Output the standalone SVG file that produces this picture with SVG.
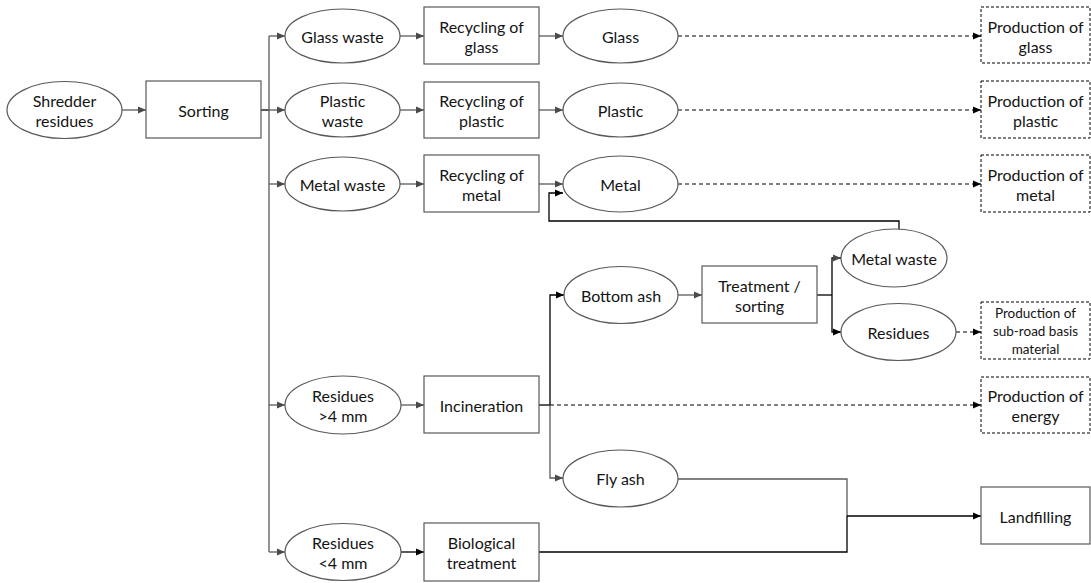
<svg xmlns="http://www.w3.org/2000/svg" width="1091" height="583" viewBox="0 0 1091 583">
  <style>
    .node ellipse, .node rect { fill: #ffffff; stroke: #595959; stroke-width: 1.2; }
    .node rect.out { stroke: #000000; stroke-width: 1; stroke-dasharray: 3 2; }
    text { font-family: Lato, "Open Sans", "Liberation Sans", sans-serif; font-size: 16px; fill: #141414; text-anchor: middle; dominant-baseline: central; }
    text.small { font-size: 13.5px; }
    .c { fill: none; stroke-width: 1.3; }
    .g { stroke: #5a5a5a; }
    .k { stroke: #000000; }
    .d { stroke: #000000; stroke-dasharray: 4 3; stroke-width: 1; }
  </style>
  <defs>
    <marker id="ag" markerUnits="userSpaceOnUse" markerWidth="10" markerHeight="10" refX="9" refY="5" orient="auto">
      <path d="M1,1.5 L9,5 L1,8.5 Z" fill="#4a4a4a"/>
    </marker>
    <marker id="ak" markerUnits="userSpaceOnUse" markerWidth="10" markerHeight="10" refX="9" refY="5" orient="auto">
      <path d="M1,1.5 L9,5 L1,8.5 Z" fill="#000000"/>
    </marker>
  </defs>
  <rect width="1091" height="583" fill="#ffffff"/>

  <!-- connectors -->
  <g id="connectors">
    <!-- shredder -> sorting -->
    <path class="c g" d="M122,110 H146" marker-end="url(#ag)"/>
    <!-- sorting -> bus -->
    <path class="c k" d="M261,110 H269"/>
    <path class="c g" d="M269,36 V552"/>
    <path class="c g" d="M269,36 H285" marker-end="url(#ag)"/>
    <path class="c g" d="M269,110 H285" marker-end="url(#ag)"/>
    <path class="c g" d="M269,184 H285" marker-end="url(#ag)"/>
    <path class="c g" d="M269,405 H285" marker-end="url(#ag)"/>
    <path class="c g" d="M269,552 H285" marker-end="url(#ag)"/>
    <!-- waste -> recycling -->
    <path class="c g" d="M400,36 H424" marker-end="url(#ag)"/>
    <path class="c g" d="M400,110 H424" marker-end="url(#ag)"/>
    <path class="c g" d="M400,184 H424" marker-end="url(#ag)"/>
    <path class="c g" d="M401,405 H424" marker-end="url(#ag)"/>
    <path class="c k" d="M401,552 H424" marker-end="url(#ak)"/>
    <!-- recycling -> material -->
    <path class="c g" d="M539,36 H563" marker-end="url(#ag)"/>
    <path class="c g" d="M539,110 H563" marker-end="url(#ag)"/>
    <path class="c g" d="M539,184 H563" marker-end="url(#ag)"/>
    <!-- material -> production (dashed) -->
    <path class="c d" d="M678,36 H981" marker-end="url(#ak)"/>
    <path class="c d" d="M678,110 H981" marker-end="url(#ak)"/>
    <path class="c d" d="M678,184 H981" marker-end="url(#ak)"/>
    <!-- metal waste feedback -->
    <path class="c k" d="M899,229 V221 H549 V193 H563" marker-end="url(#ak)"/>
    <!-- incineration outputs -->
    <path class="c k" d="M539,405 H550"/>
    <path class="c k" d="M550,405 V295 H564" marker-end="url(#ak)"/>
    <path class="c g" d="M550,405 V478 H563" marker-end="url(#ag)"/>
    <path class="c d" d="M550,405 H981" marker-end="url(#ak)"/>
    <!-- bottom ash -> treatment -->
    <path class="c g" d="M678,295 H702" marker-end="url(#ag)"/>
    <!-- treatment fork -->
    <path class="c k" d="M817,295 H832"/>
    <path class="c k" d="M832,295 V258 H841" marker-end="url(#ag)"/>
    <path class="c k" d="M832,295 V332 H841" marker-end="url(#ak)"/>
    <path class="c d" d="M956,332 H981" marker-end="url(#ak)"/>
    <!-- to landfilling -->
    <path class="c g" d="M678,479 H847 V516"/>
    <path class="c k" d="M539,552 H847 V516"/>
    <path class="c k" d="M847,516 H981" marker-end="url(#ak)"/>
  </g>

  <!-- nodes -->
  <g id="shredder-residues" class="node">
    <ellipse cx="64.5" cy="110" rx="57.5" ry="28.5"/>
    <text x="64.5" y="100">Shredder</text>
    <text x="64.5" y="120">residues</text>
  </g>
  <g id="sorting" class="node">
    <rect x="146" y="81" width="115" height="57"/>
    <text x="203.5" y="110">Sorting</text>
  </g>

  <g id="glass-waste" class="node">
    <ellipse cx="342.5" cy="36" rx="57.5" ry="27"/>
    <text x="342.5" y="36">Glass waste</text>
  </g>
  <g id="recycling-glass" class="node">
    <rect x="424" y="7" width="115" height="57"/>
    <text x="481.5" y="26">Recycling of</text>
    <text x="481.5" y="46">glass</text>
  </g>
  <g id="glass" class="node">
    <ellipse cx="620.5" cy="36" rx="57.5" ry="27"/>
    <text x="620.5" y="36">Glass</text>
  </g>
  <g id="production-glass" class="node">
    <rect class="out" x="981" y="7" width="109" height="56"/>
    <text x="1035.5" y="26">Production of</text>
    <text x="1035.5" y="46">glass</text>
  </g>

  <g id="plastic-waste" class="node">
    <ellipse cx="342.5" cy="110" rx="57.5" ry="27"/>
    <text x="342.5" y="100">Plastic</text>
    <text x="342.5" y="120">waste</text>
  </g>
  <g id="recycling-plastic" class="node">
    <rect x="424" y="82" width="115" height="56"/>
    <text x="481.5" y="100">Recycling of</text>
    <text x="481.5" y="120">plastic</text>
  </g>
  <g id="plastic" class="node">
    <ellipse cx="620.5" cy="110" rx="57.5" ry="27"/>
    <text x="620.5" y="110">Plastic</text>
  </g>
  <g id="production-plastic" class="node">
    <rect class="out" x="981" y="81" width="109" height="57"/>
    <text x="1035.5" y="100">Production of</text>
    <text x="1035.5" y="120">plastic</text>
  </g>

  <g id="metal-waste" class="node">
    <ellipse cx="342.5" cy="184" rx="57.5" ry="27"/>
    <text x="342.5" y="184">Metal waste</text>
  </g>
  <g id="recycling-metal" class="node">
    <rect x="424" y="155" width="115" height="57"/>
    <text x="481.5" y="174">Recycling of</text>
    <text x="481.5" y="194">metal</text>
  </g>
  <g id="metal" class="node">
    <ellipse cx="620.5" cy="184" rx="57.5" ry="28"/>
    <text x="620.5" y="184">Metal</text>
  </g>
  <g id="production-metal" class="node">
    <rect class="out" x="981" y="155" width="109" height="57"/>
    <text x="1035.5" y="174">Production of</text>
    <text x="1035.5" y="194">metal</text>
  </g>

  <g id="bottom-ash" class="node">
    <ellipse cx="621" cy="295" rx="57" ry="28.5"/>
    <text x="621" y="295">Bottom ash</text>
  </g>
  <g id="treatment-sorting" class="node">
    <rect x="702" y="266" width="115" height="57"/>
    <text x="759.5" y="285">Treatment /</text>
    <text x="759.5" y="305">sorting</text>
  </g>
  <g id="ash-metal-waste" class="node">
    <ellipse cx="894" cy="258" rx="53" ry="29"/>
    <text x="894" y="258">Metal waste</text>
  </g>
  <g id="ash-residues" class="node">
    <ellipse cx="898.5" cy="332" rx="57.5" ry="28.5"/>
    <text x="898.5" y="332">Residues</text>
  </g>
  <g id="production-sub-road" class="node">
    <rect class="out" x="981" y="302" width="109" height="57"/>
    <text class="small" x="1035.5" y="313">Production of</text>
    <text class="small" x="1035.5" y="331">sub-road basis</text>
    <text class="small" x="1035.5" y="349">material</text>
  </g>

  <g id="residues-over-4mm" class="node">
    <ellipse cx="343" cy="405" rx="58" ry="29"/>
    <text x="343" y="395">Residues</text>
    <text x="343" y="415">&gt;4 mm</text>
  </g>
  <g id="incineration" class="node">
    <rect x="424" y="376" width="115" height="57"/>
    <text x="481.5" y="405">Incineration</text>
  </g>
  <g id="production-energy" class="node">
    <rect class="out" x="981" y="377" width="109" height="56"/>
    <text x="1035.5" y="395">Production of</text>
    <text x="1035.5" y="415">energy</text>
  </g>

  <g id="fly-ash" class="node">
    <ellipse cx="620.5" cy="478.5" rx="57.5" ry="28.5"/>
    <text x="620.5" y="478.5">Fly ash</text>
  </g>
  <g id="landfilling" class="node">
    <rect x="981" y="487" width="109" height="57"/>
    <text x="1035.5" y="516">Landfilling</text>
  </g>

  <g id="residues-under-4mm" class="node">
    <ellipse cx="343" cy="552" rx="58" ry="28.5"/>
    <text x="343" y="542">Residues</text>
    <text x="343" y="562">&lt;4 mm</text>
  </g>
  <g id="biological-treatment" class="node">
    <rect x="424" y="523" width="115" height="58"/>
    <text x="481.5" y="542">Biological</text>
    <text x="481.5" y="562">treatment</text>
  </g>
</svg>
